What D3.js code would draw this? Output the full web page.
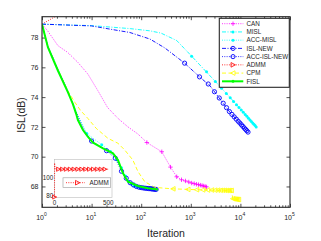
<!DOCTYPE html>
<html>
<head>
<meta charset="utf-8">
<script src="https://cdn.jsdelivr.net/npm/d3@7"></script>
<style>
body { margin: 0; background: #fff; }
svg { display: block; font-family: "Liberation Sans", Arial, sans-serif; }
</style>
</head>
<body>
<div id="chart"></div>
<script>
// valori: [iterazione, ISL in dB]
const canLine = [[1,78.9],[1.3,78.45],[2.1,77.45],[3.3,77.0],[5.3,76.33],[8.4,75.55],[13.4,74.43],[21,73.3],[34,72.57],[54,72.0],[86,71.52],[130,70.95],[260,70.33],[390,69.3],[520,68.65],[650,68.45],[1040,68.23],[2080,67.97]];
const canMarks = [[130,70.95],[260,70.33],[390,69.3],[520,68.65],[650,68.45],[780,68.37],[910,68.3],[1040,68.23],[1170,68.19],[1300,68.15],[1430,68.12],[1560,68.09],[1690,68.06],[1820,68.03],[1950,68.0],[2080,67.97]];

const mislLine = [[1,78.9],[3,78.85],[10,78.8],[25,78.7],[60,78.6],[150,78.45],[250,78.3],[520,77.8],[1040,76.75],[2440,75.43],[6170,73.98],[12500,72.84],[21000,72.0]];
const mislMarks = [[1040,76.75],[2080,75.7],[3120,75.04],[4160,74.59],[5200,74.24],[6240,73.96],[7280,73.71],[8320,73.49],[9360,73.3],[10400,73.13],[11440,72.98],[12480,72.84],[13520,72.71],[14560,72.58],[15600,72.47],[16640,72.36],[17680,72.26],[18720,72.17],[19760,72.09],[20800,72.0]];

const accMislLine = [[1,78.9],[1.3,77.45],[2.1,75.9],[3.3,74.45],[5,72.95],[8,71.55],[16,70.8],[24,70.35],[32,69.8],[40,69.25],[48,68.7],[56,68.35],[72,68.05],[100,67.95],[150,67.87]];
const accMislMarks = [[8,71.55],[16,70.8],[24,70.35],[32,69.8],[40,69.25],[48,68.7],[56,68.35],[64,68.15],[72,68.05],[80,68.0],[88,67.97],[96,67.95],[104,67.93],[112,67.91],[120,67.9],[128,67.89],[136,67.88],[144,67.87]];

const islNewLine = [[1,78.9],[10,78.78],[23,78.57],[59,78.34],[150,77.9],[300,77.3],[750,76.28],[1500,75.36],[2440,74.76],[3880,73.87],[6170,72.98],[14250,71.65]];
const islNewMarks = [[750,76.28],[1500,75.36],[2250,74.88],[3000,74.36],[3750,73.94],[4500,73.59],[5250,73.29],[6000,73.03],[6750,72.84],[7500,72.67],[8250,72.52],[9000,72.38],[9750,72.26],[10500,72.14],[11250,72.03],[12000,71.92],[12750,71.83],[13500,71.74],[14250,71.65]];

const accIslNewLine = [[1,78.9],[1.3,77.45],[2.1,75.85],[3.3,74.4],[5,72.9],[7,71.8],[10,71.05],[20,70.4],[30,69.9],[40,69.02],[50,68.55],[60,68.25],[80,68.0],[100,67.92],[150,67.85],[200,67.8]];
const accIslNewMarks = [[10,71.05],[20,70.4],[30,69.9],[40,69.02],[50,68.55],[60,68.25],[70,68.1],[80,68.0],[90,67.95],[100,67.92],[110,67.9],[120,67.88],[130,67.87],[140,67.86],[150,67.85],[160,67.84],[170,67.83],[180,67.82],[190,67.81],[200,67.8]];

const admmLine = [[1,78.9],[10,80.8],[500,108.7]];
const admmMarks = [];

const cpmLine = [[1,78.9],[1.3,77.4],[2.1,75.85],[3.3,74.43],[4.6,73.65],[6,73.1],[8.4,72.57],[12.4,71.9],[21.4,71.23],[34,70.9],[46.5,70.45],[68,69.77],[86,69.0],[118,68.32],[187,67.94],[300,67.88],[440,67.84],[1320,67.78],[2200,67.76],[4000,67.74],[6600,67.73],[7040,67.18],[9240,67.12]];
const cpmMarks = [[440,67.84],[880,67.8],[1320,67.78],[1760,67.77],[2200,67.76],[2640,67.76],[3080,67.75],[3520,67.75],[3960,67.74],[4400,67.74],[4840,67.74],[5280,67.73],[5720,67.73],[6160,67.73],[6600,67.73],[7040,67.18],[7480,67.16],[7920,67.15],[8360,67.14],[8800,67.13],[9240,67.12]];

const fislLine = [[1,78.9],[1.32,77.34],[2.1,75.77],[3.34,74.32],[4.2,73.53],[4.9,72.86],[5.3,72.46],[6.7,71.79],[8.4,71.34],[10.7,70.94],[17,70.56],[27,70.22],[34,69.77],[43,68.88],[54,68.32],[86,68.03],[137,67.88],[218,67.8]];

// inserto ADMM (scala lineare)
const admmInsetLine = [[0,78.9],[1,115.3],[5,109],[20,108.7],[500,108.7]];
const admmInsetMarks = [[0,78.9],[36,108.7],[72,108.7],[108,108.7],[144,108.7],[180,108.7],[216,108.7],[252,108.7],[288,108.7],[324,108.7],[360,108.7],[396,108.7],[432,108.7],[468,108.7]];

const yTicks = [68, 70, 72, 74, 76, 78];
const xExponents = [0, 1, 2, 3, 4, 5];
const insetYTicks = [80, 100];
const insetXTicks = [0, 500];

const series = [
    { name: "CAN", line: canLine, marks: canMarks, color: "#ff00ff", dash: "1,1.3", marker: "+", w: 0.8 },
    { name: "MISL", line: mislLine, marks: mislMarks, color: "#00ffff", dash: "4,1.5,1,1.5", marker: ".", w: 0.9 },
    { name: "ACC-MISL", line: accMislLine, marks: accMislMarks, color: "#00ffff", dash: "1,1.3", marker: ".", w: 0.8 },
    { name: "ISL-NEW", line: islNewLine, marks: islNewMarks, color: "#0000ff", dash: "4,1.5,1,1.5", marker: "o", w: 0.9 },
    { name: "ACC-ISL-NEW", line: accIslNewLine, marks: accIslNewMarks, color: "#0000ff", dash: "1,1.3", marker: "o", w: 0.8 },
    { name: "ADMM", line: admmLine, marks: admmMarks, color: "#ff0000", dash: "1,1.3", marker: ">", w: 0.8 },
    { name: "CPM", line: cpmLine, marks: cpmMarks, color: "#ffff00", dash: "4,2.5", marker: "<", w: 0.9 },
    { name: "FISL", line: fislLine, marks: [], color: "#00ff00", dash: null, marker: ".", w: 2 }
];

const width = 321, height = 241;
const plot = { left: 42, right: 290, top: 16.7, bottom: 207.3 };
const axisColor = "#262626";

const svg = d3.select("#chart").append("svg")
    .attr("width", width).attr("height", height);
svg.append("rect").attr("width", width).attr("height", height).attr("fill", "#fff");

const x = d3.scaleLog().domain([1, 1e5]).range([plot.left, plot.right]);
const y = d3.scaleLinear().domain([66.6, 79.4]).range([plot.bottom, plot.top]);

svg.append("clipPath").attr("id", "clip")
    .append("rect").attr("x", plot.left).attr("y", plot.top)
    .attr("width", plot.right - plot.left).attr("height", plot.bottom - plot.top);

function drawMarker(g, type, px, py, color, s = 1) {
    if (type === "+") {
        g.append("path").attr("d", `M${px - 2.2 * s},${py}H${px + 2.2 * s}M${px},${py - 2.2 * s}V${py + 2.2 * s}`)
            .attr("stroke", color).attr("stroke-width", 0.8).attr("fill", "none");
    } else if (type === "o") {
        g.append("circle").attr("cx", px).attr("cy", py).attr("r", 2.1 * s)
            .attr("stroke", color).attr("stroke-width", 0.9).attr("fill", "none");
    } else if (type === ".") {
        g.append("circle").attr("cx", px).attr("cy", py).attr("r", 1.5 * s).attr("fill", color);
    } else if (type === ">" || type === "<") {
        const d = type === ">" ? 1 : -1;
        g.append("path")
            .attr("d", `M${px + 2.4 * d * s},${py}L${px - 2 * d * s},${py - 2.3 * s}L${px - 2 * d * s},${py + 2.3 * s}Z`)
            .attr("stroke", color).attr("stroke-width", 0.8).attr("fill", "none");
    }
}

// Assi: ticks interni su tutti i lati
const axes = svg.append("g").attr("color", axisColor);
const minors = [];
for (let e = 0; e < 5; e++) for (let j = 2; j < 10; j++) minors.push(j * Math.pow(10, e));
const majors = xExponents.map(e => Math.pow(10, e));

axes.append("g").attr("transform", `translate(0,${plot.bottom})`)
    .call(d3.axisBottom(x).tickValues(minors).tickSize(-2).tickFormat(""));
axes.append("g").attr("transform", `translate(0,${plot.top})`)
    .call(d3.axisTop(x).tickValues(minors).tickSize(-2).tickFormat(""));
axes.append("g").attr("transform", `translate(0,${plot.bottom})`)
    .call(d3.axisBottom(x).tickValues(majors).tickSize(-3.5).tickFormat(""));
axes.append("g").attr("transform", `translate(0,${plot.top})`)
    .call(d3.axisTop(x).tickValues(majors).tickSize(-3.5).tickFormat(""));
axes.append("g").attr("transform", `translate(${plot.left},0)`)
    .call(d3.axisLeft(y).tickValues(yTicks).tickSize(-3.5).tickPadding(3.5))
    .call(g => g.selectAll("text").attr("font-size", 7).attr("fill", axisColor).attr("font-family", null));
axes.append("g").attr("transform", `translate(${plot.right},0)`)
    .call(d3.axisRight(y).tickValues(yTicks).tickSize(-3.5).tickFormat(""));
axes.selectAll(".domain").remove();
axes.selectAll("line").attr("stroke-width", 0.8);

// Etichette 10^n
const xLab = svg.append("g").attr("fill", axisColor);
xExponents.forEach(e => {
    const t = xLab.append("text").attr("x", x(Math.pow(10, e)) - 0.5).attr("y", 220)
        .attr("text-anchor", "middle").attr("font-size", 7);
    t.append("tspan").text("10");
    t.append("tspan").attr("font-size", 5).attr("dy", -4).text(e);
});

svg.append("text").attr("x", 166).attr("y", 237).attr("text-anchor", "middle")
    .attr("font-size", 10.5).attr("fill", axisColor).text("Iteration");
svg.append("text").attr("transform", "translate(24.5,115) rotate(-90)").attr("text-anchor", "middle")
    .attr("font-size", 10.5).attr("fill", axisColor).text("ISL(dB)");

// Curve
const plotG = svg.append("g").attr("clip-path", "url(#clip)");
const line = d3.line().x(d => x(d[0])).y(d => y(d[1]));
series.forEach(s => {
    plotG.append("path").datum(s.line).attr("d", line)
        .attr("fill", "none").attr("stroke", s.color).attr("stroke-width", s.w)
        .attr("stroke-dasharray", s.dash);
    s.marks.forEach(d => drawMarker(plotG, s.marker, x(d[0]), y(d[1]), s.color));
});

// Riquadro assi
svg.append("rect").attr("x", plot.left).attr("y", plot.top)
    .attr("width", plot.right - plot.left).attr("height", plot.bottom - plot.top)
    .attr("fill", "none").attr("stroke", axisColor).attr("stroke-width", 1.1);

// Legenda
const legend = svg.append("g");
legend.append("rect").attr("x", 219.3).attr("y", 18.3).attr("width", 70).attr("height", 69)
    .attr("fill", "#fff").attr("stroke", axisColor).attr("stroke-width", 1.1);
series.forEach((s, i) => {
    const ly = 23.7 + i * 8.23;
    legend.append("line").attr("x1", 222).attr("x2", 243.3).attr("y1", ly).attr("y2", ly)
        .attr("stroke", s.color).attr("stroke-width", s.w).attr("stroke-dasharray", s.dash);
    drawMarker(legend, s.marker, 233, ly, s.color);
    legend.append("text").attr("x", 246.5).attr("y", ly).attr("dy", "0.35em")
        .attr("font-size", 6.3).attr("fill", axisColor).text(s.name);
});

// Inserto ADMM
const ix = d3.scaleLinear().domain([0, 535]).range([54.5, 112]);
const iy = d3.scaleLinear().domain([78.6, 119.3]).range([197.3, 159.3]);
const inset = svg.append("g");
inset.append("rect").attr("x", 54.5).attr("y", 159.3).attr("width", 57.5).attr("height", 38)
    .attr("fill", "#fff").attr("stroke", "#bdbdbd").attr("stroke-width", 0.6);
insetYTicks.forEach(v => {
    inset.append("text").attr("x", 53.3).attr("y", iy(v)).attr("dy", "0.35em")
        .attr("text-anchor", "end").attr("font-size", 6.3).attr("fill", axisColor).text(v);
});
insetXTicks.forEach(v => {
    inset.append("text").attr("x", ix(v)).attr("y", 204.5)
        .attr("text-anchor", "middle").attr("font-size", 6.3).attr("fill", axisColor).text(v);
});
inset.append("path").datum(admmInsetLine)
    .attr("d", d3.line().x(d => ix(d[0])).y(d => iy(d[1])))
    .attr("fill", "none").attr("stroke", "#ff0000").attr("stroke-width", 0.8).attr("stroke-dasharray", "1,1.3");
admmInsetMarks.forEach(d => drawMarker(inset, ">", ix(d[0]), iy(d[1]), "#ff0000", 0.9));

inset.append("rect").attr("x", 63).attr("y", 177.8).attr("width", 47.7).attr("height", 9.8)
    .attr("fill", "#fff").attr("stroke", "#9a9a9a").attr("stroke-width", 0.6);
inset.append("line").attr("x1", 66).attr("x2", 85).attr("y1", 182.7).attr("y2", 182.7)
    .attr("stroke", "#ff0000").attr("stroke-width", 0.8).attr("stroke-dasharray", "1,1.3");
drawMarker(inset, ">", 77.5, 182.7, "#ff0000");
inset.append("text").attr("x", 89.5).attr("y", 182.7).attr("dy", "0.35em")
    .attr("font-size", 6.3).attr("fill", axisColor).text("ADMM");
</script>
</body>
</html>
